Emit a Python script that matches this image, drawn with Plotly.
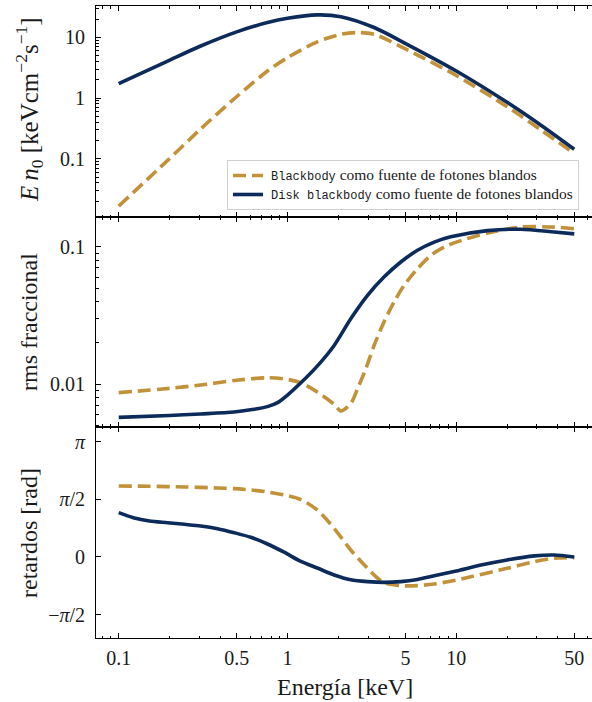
import plotly.graph_objects as go
from plotly.subplots import make_subplots

# ---- Espectro: E n0 [keV cm^-2 s^-1] ----
e_spec_disk = [0.1, 0.195, 0.306, 0.505, 0.761, 1.0, 1.5, 2.07, 3.26, 5.14, 10, 20, 31.6, 50]
spec_disk = [1.73, 4.07, 7.19, 12.4, 17.5, 20.6, 23.4, 21.9, 14.5, 7.6, 2.79, 0.85, 0.36, 0.143]

e_spec_bb = [0.1, 0.195, 0.306, 0.505, 0.761, 1.0, 1.5, 2.07, 2.6, 3.26, 5.14, 10, 20, 31.6, 50]
spec_bb = [0.0166, 0.094, 0.31, 1.08, 2.79, 4.63, 8.43, 11.2, 12.0, 11.2, 6.2, 2.35, 0.72, 0.30, 0.122]

# ---- rms fraccional ----
e_rms_disk = [0.1, 0.2, 0.306, 0.483, 0.634, 0.76, 0.873, 1.0, 1.2, 1.5, 1.89, 2.37, 2.98,
              3.73, 4.69, 5.89, 7.4, 9.27, 15.3, 24, 38, 50]
rms_disk = [0.00571, 0.00590, 0.00605, 0.00625, 0.00654, 0.00684, 0.00731, 0.0083, 0.0102,
            0.0135, 0.0191, 0.0299, 0.0443, 0.0601, 0.0774, 0.0942, 0.108, 0.118, 0.131,
            0.134, 0.128, 0.124]

e_rms_bb = [0.1, 0.2, 0.306, 0.483, 0.761, 1.0, 1.2, 1.5, 1.89, 2.07, 2.37, 2.6, 2.91, 3.26,
            3.73, 4.28, 4.91, 5.89, 7.07, 8.48, 10, 15.3, 24, 38, 50]
rms_bb = [0.00865, 0.0093, 0.00983, 0.0106, 0.0111, 0.0108, 0.0102, 0.00874, 0.0071, 0.00636,
          0.0072, 0.00924, 0.0129, 0.0191, 0.0283, 0.0396, 0.0524, 0.0692, 0.0865, 0.0995,
          0.108, 0.126, 0.139, 0.139, 0.135]

# ---- retardos [rad] ----
e_lag_disk = [0.1, 0.122, 0.152, 0.195, 0.245, 0.306, 0.385, 0.483, 0.606, 0.76, 0.955, 1.2,
              1.5, 1.89, 2.37, 2.98, 3.73, 4.69, 5.89, 7.4, 10, 14, 20, 29, 38, 50]
lag_disk = [1.206, 1.07, 0.98, 0.934, 0.89, 0.844, 0.77, 0.662, 0.536, 0.354, 0.13, -0.12,
            -0.30, -0.49, -0.62, -0.67, -0.69, -0.67, -0.61, -0.51, -0.38, -0.22, -0.08,
            0.03, 0.055, 0.0]

e_lag_bb = [0.1, 0.152, 0.245, 0.385, 0.483, 0.606, 0.76, 0.955, 1.2, 1.5, 1.89, 2.37, 2.98,
            3.34, 3.73, 4.69, 5.89, 7.4, 10, 20, 29, 38, 50]
lag_bb = [1.933, 1.925, 1.906, 1.878, 1.86, 1.824, 1.77, 1.688, 1.56, 1.28, 0.78, 0.19, -0.308,
          -0.536, -0.70, -0.781, -0.78, -0.735, -0.626, -0.308, -0.128, -0.035, -0.019]

x_ticks = [0.1, 0.5, 1, 5, 10, 50]
x_ticklabels = ["0.1", "0.5", "1", "5", "10", "50"]
x_minor = [0.08, 0.09, 0.2, 0.3, 0.4, 0.6, 0.7, 0.8, 0.9, 2, 3, 4, 6, 7, 8, 9, 20, 30, 40, 60]

spec_ticks = [0.1, 1, 10]
spec_ticklabels = ["0.1", "1", "10"]
rms_ticks = [0.01, 0.1]
rms_ticklabels = ["0.01", "0.1"]
PI = 3.141592653589793
lag_ticks = [-PI / 2, 0, PI / 2, PI]
lag_ticklabels = ["−<i>π</i>/2", "0", "<i>π</i>/2", "<i>π</i>"]

GOLD = "#C1923A"
NAVY = "#0C2B5A"
FONT = "'Liberation Serif', 'DejaVu Serif', serif"
MONO = "Liberation Mono"
TXT = "#1a1a1a"


def legend_label(mono_part):
    return (f" <span style=\"font-family:'{MONO}';font-size:12px\">{mono_part}</span>"
            "<span style=\"font-size:15.5px\"> como fuente de fotones blandos</span>")


lab_bb = legend_label("Blackbody")
lab_disk = legend_label("Disk blackbody")

fig = make_subplots(rows=3, cols=1, shared_xaxes=True, vertical_spacing=0)

dash_line = dict(color=GOLD, width=3.6, dash="13px,6px", shape="spline", smoothing=0.8)
solid_line = dict(color=NAVY, width=3.6, shape="spline", smoothing=0.8)

fig.add_trace(go.Scatter(x=e_spec_bb, y=spec_bb, mode="lines", line=dash_line,
                         name=lab_bb, legendrank=1), row=1, col=1)
fig.add_trace(go.Scatter(x=e_spec_disk, y=spec_disk, mode="lines", line=solid_line,
                         name=lab_disk, legendrank=2), row=1, col=1)
fig.add_trace(go.Scatter(x=e_rms_bb, y=rms_bb, mode="lines", line=dash_line,
                         showlegend=False), row=2, col=1)
fig.add_trace(go.Scatter(x=e_rms_disk, y=rms_disk, mode="lines", line=solid_line,
                         showlegend=False), row=2, col=1)
fig.add_trace(go.Scatter(x=e_lag_bb, y=lag_bb, mode="lines", line=dash_line,
                         showlegend=False), row=3, col=1)
fig.add_trace(go.Scatter(x=e_lag_disk, y=lag_disk, mode="lines", line=solid_line,
                         showlegend=False), row=3, col=1)

axis_common = dict(showline=True, linecolor="black", linewidth=1, ticks="inside",
                   ticklen=5, tickwidth=1, tickcolor="black", showgrid=False,
                   zeroline=False, tickfont=dict(family=FONT, size=20, color=TXT))

minor_common = dict(ticks="inside", ticklen=2.5, tickwidth=1, tickcolor="black",
                    showgrid=False)

for i in (1, 2, 3):
    fig.update_xaxes(type="log", range=[-1.1345, 1.804], tickmode="array",
                     tickvals=x_ticks, ticktext=x_ticklabels, mirror="ticks",
                     minor=dict(tickmode="array", tickvals=x_minor, **minor_common),
                     ticklabelstandoff=2, **axis_common, row=i, col=1)

dec_minor = [m * 10 ** k for k in range(-3, 3) for m in range(2, 10)]

fig.update_yaxes(type="log", range=[-1.96, 1.516], tickmode="array", tickvals=spec_ticks,
                 ticktext=spec_ticklabels, mirror=False, ticklabelstandoff=6,
                 minor=dict(tickmode="array", tickvals=dec_minor, **minor_common),
                 **axis_common, row=1, col=1)
fig.update_yaxes(type="log", range=[-2.313, -0.7837], tickmode="array", tickvals=rms_ticks,
                 ticktext=rms_ticklabels, mirror=False, ticklabelstandoff=6,
                 minor=dict(tickmode="array", tickvals=dec_minor, **minor_common),
                 **axis_common, row=2, col=1)
fig.update_yaxes(range=[-2.205, 3.539], tickmode="array", tickvals=lag_ticks,
                 ticktext=lag_ticklabels, mirror=False, ticklabelstandoff=6,
                 **axis_common, row=3, col=1)

# panel domains: equal heights, no gap
fig.update_layout(
    yaxis=dict(domain=[0.6661, 1.0]),
    yaxis2=dict(domain=[0.3339, 0.6661]),
    yaxis3=dict(domain=[0.0, 0.3339]),
)

W, H = 592, 702
ML, MR, MT, MB = 96, 0, 6, 64
pw = W - ML - MR
ph = H - MT - MB


def px_x(x):
    return (x - ML) / pw


def px_y(y):
    return (H - MB - y) / ph


annots = [
    dict(text="<i>E</i>\u2009<i>n</i><sub>0</sub> [keVcm<sup>−2</sup>s<sup>−1</sup>]",
         x=px_x(29), y=px_y(110), textangle=-90, size=25),
    dict(text="rms fraccional", x=px_x(29), y=px_y(322), textangle=-90, size=24),
    dict(text="retardos [rad]", x=px_x(29), y=px_y(533), textangle=-90, size=24),
    dict(text="Energía [keV]", x=px_x(345), y=px_y(687), textangle=0, size=24),
]
for a in annots:
    size = a.pop("size")
    fig.add_annotation(xref="paper", yref="paper", showarrow=False, xanchor="center",
                       yanchor="middle", font=dict(family=FONT, size=size, color=TXT), **a)

fig.update_layout(
    width=W, height=H,
    margin=dict(l=ML, r=MR, t=MT, b=MB),
    paper_bgcolor="white", plot_bgcolor="white",
    font=dict(family=FONT, color=TXT),
    legend=dict(x=px_x(227), y=px_y(160), xanchor="left", yanchor="top",
                bgcolor="rgba(255,255,255,0.85)", bordercolor="#d0d0d0", borderwidth=1,
                font=dict(family=FONT, size=12, color=TXT), tracegroupgap=0,
                itemwidth=30),
    showlegend=True,
)

fig.write_html("out.html")
